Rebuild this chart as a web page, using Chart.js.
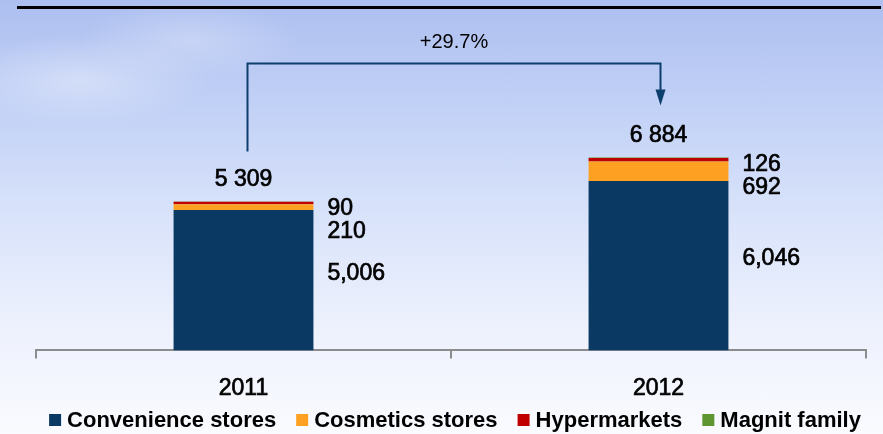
<!DOCTYPE html>
<html>
<head>
<meta charset="utf-8">
<script src="https://cdn.jsdelivr.net/npm/chart.js@4"></script>
<style>
html, body { margin: 0; padding: 0; }
body {
    width: 883px;
    height: 434px;
    overflow: hidden;
    background:
        radial-gradient(ellipse 130px 45px at 80px 80px, rgba(255,255,255,0.35), rgba(255,255,255,0)),
        radial-gradient(ellipse 110px 40px at 190px 40px, rgba(255,255,255,0.25), rgba(255,255,255,0)),
        linear-gradient(to bottom, #adbff0 0%, #c2d1f6 25%, #d9e3fa 50%, #edf1fd 75%, #fafbff 100%);
}
#wrap { position: relative; width: 883px; height: 434px; }
</style>
</head>
<body>
<div id="wrap"><canvas id="storesChart" width="883" height="434"></canvas></div>
<script>
const years = ['2011', '2012'];
const convenience = [5006, 6046];
const cosmetics = [210, 692];
const hypermarkets = [90, 126];
const magnitFamily = [3, 20];
const growthLabel = '+29.7%';

const FONT = '"Liberation Sans", Arial, sans-serif';

function spaced(n) {
    return String(n).replace(/\B(?=(\d{3})+(?!\d))/g, ' ');
}
function commas(n) {
    return String(n).replace(/\B(?=(\d{3})+(?!\d))/g, ',');
}

// draws text a little heavier than the regular face
function heavyText(ctx, s, x, y) {
    ctx.strokeText(s, x, y);
    ctx.fillText(s, x, y);
}

// labels, top line, growth bracket and legend
const overlay = {
    id: 'overlay',
    afterDatasetsDraw(chart) {
        const ctx = chart.ctx;
        const metas = chart.data.datasets.map((d, i) => chart.getDatasetMeta(i));
        ctx.save();

        // rule across the top
        ctx.strokeStyle = '#000';
        ctx.lineWidth = 3;
        ctx.beginPath();
        ctx.moveTo(17, 7.5);
        ctx.lineTo(881, 7.5);
        ctx.stroke();

        ctx.fillStyle = '#000';
        ctx.strokeStyle = '#000';
        ctx.lineWidth = 0.7;
        ctx.font = '23px ' + FONT;
        ctx.textBaseline = 'middle';

        const totalY = [];
        years.forEach((y, i) => {
            const navy = metas[0].data[i];
            const top = metas[3].data[i].y;
            const total = convenience[i] + cosmetics[i] + hypermarkets[i] + magnitFamily[i];
            ctx.textAlign = 'center';
            heavyText(ctx, spaced(total), navy.x, top - 22);
            totalY.push(top - 22);

            const lx = navy.x + navy.width / 2 + 14;
            ctx.textAlign = 'left';
            heavyText(ctx, commas(hypermarkets[i]), lx, top + 7);
            heavyText(ctx, commas(cosmetics[i]), lx, top + 30);
            heavyText(ctx, commas(convenience[i]), lx, (navy.y + navy.base) / 2 - 7);
        });

        // growth bracket with arrow
        const x1 = metas[0].data[0].x + 4;
        const x2 = metas[0].data[1].x + 2;
        const yTop = 63.5;
        const tip = totalY[1] - 30;
        ctx.strokeStyle = '#0d3f6e';
        ctx.fillStyle = '#0d3f6e';
        ctx.lineWidth = 2;
        ctx.beginPath();
        ctx.moveTo(x1, totalY[0] - 28);
        ctx.lineTo(x1, yTop);
        ctx.lineTo(x2, yTop);
        ctx.lineTo(x2, tip - 14);
        ctx.stroke();
        ctx.beginPath();
        ctx.moveTo(x2 - 5, tip - 16);
        ctx.lineTo(x2 + 5, tip - 16);
        ctx.lineTo(x2, tip);
        ctx.closePath();
        ctx.fill();

        ctx.fillStyle = '#000';
        ctx.font = '20px ' + FONT;
        ctx.textAlign = 'center';
        ctx.fillText(growthLabel, (x1 + x2) / 2, 42);

        // legend row
        ctx.font = 'bold 22px ' + FONT;
        ctx.textAlign = 'left';
        const items = chart.data.datasets.map(d => ({
            text: d.label,
            color: d.backgroundColor,
            w: ctx.measureText(d.label).width
        }));
        const gapBox = 6, gapItem = 20, box = 12;
        let totalW = 0;
        items.forEach((it, i) => {
            totalW += box + gapBox + it.w + (i < items.length - 1 ? gapItem : 0);
        });
        let x = 455 - totalW / 2;
        const ly = 420;
        items.forEach(it => {
            ctx.fillStyle = it.color;
            ctx.fillRect(x, ly - 6, box, box);
            ctx.fillStyle = '#000';
            ctx.fillText(it.text, x + box + gapBox, ly + 1);
            x += box + gapBox + it.w + gapItem;
        });

        ctx.restore();
    }
};

new Chart(document.getElementById('storesChart'), {
    type: 'bar',
    data: {
        labels: years,
        datasets: [
            { label: 'Convenience stores', data: convenience, backgroundColor: '#0a3a64' },
            { label: 'Cosmetics stores', data: cosmetics, backgroundColor: '#fea022' },
            { label: 'Hypermarkets', data: hypermarkets, backgroundColor: '#c00000' },
            { label: 'Magnit family', data: magnitFamily, backgroundColor: '#5f9631' }
        ]
    },
    options: {
        responsive: false,
        animation: false,
        layout: { padding: { left: 36, right: 17, top: 0, bottom: 16 } },
        datasets: { bar: { categoryPercentage: 1, barPercentage: 0.337 } },
        plugins: { legend: { display: false }, tooltip: { enabled: false } },
        scales: {
            x: {
                stacked: true,
                grid: { drawOnChartArea: false, tickLength: 8, color: '#8c8c8c', lineWidth: 2 },
                border: { color: '#8c8c8c', width: 2 },
                ticks: {
                    color: '#000',
                    font: { family: FONT, size: 23 },
                    padding: 16,
                    textStrokeColor: '#000',
                    textStrokeWidth: 0.7
                }
            },
            y: { stacked: true, display: false, min: 0, max: 12500 }
        }
    },
    plugins: [overlay]
});
</script>
</body>
</html>
